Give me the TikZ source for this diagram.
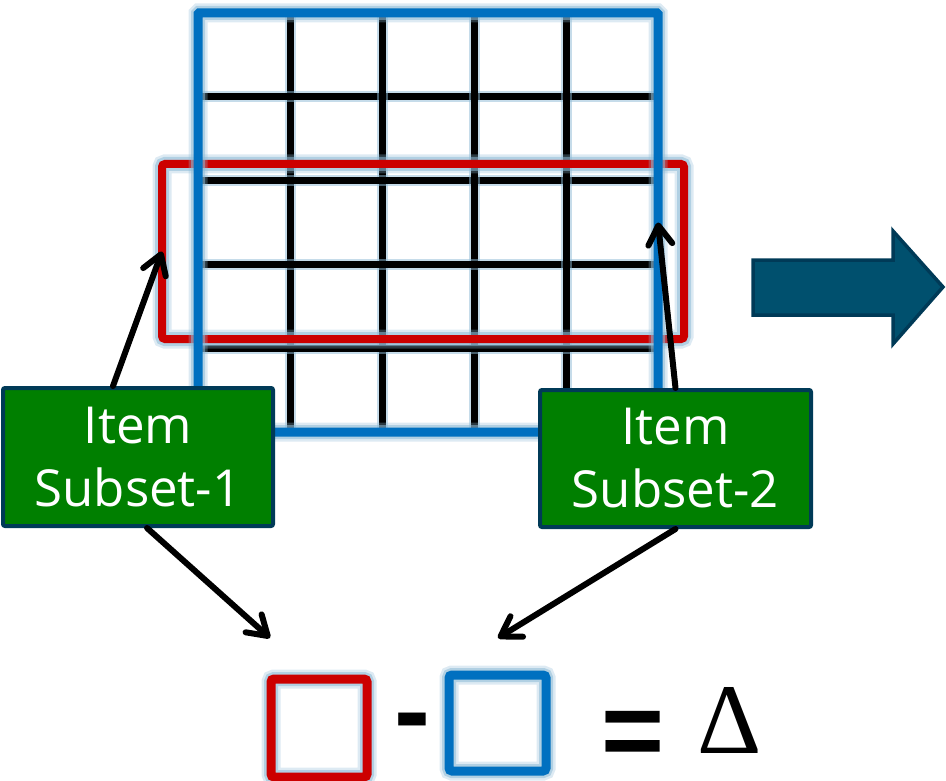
\documentclass[tikz,border=0pt]{standalone}
\usepackage{fontspec}
\setmainfont{Open Sans}
\newfontfamily\symbfont{Liberation Sans}
\newfontfamily\deltafont{Liberation Serif}
\usepackage{xcolor}
\usepackage{tikz}
\usetikzlibrary{arrows.meta, positioning, calc}

\definecolor{setblue}{HTML}{0070C0}
\definecolor{setred}{HTML}{CC0000}
\definecolor{itemgreen}{HTML}{007F00}
\definecolor{navyline}{HTML}{003A57}
\definecolor{bigarrow}{HTML}{00506E}
\definecolor{glowblue}{HTML}{8DBAD6}

\begin{document}
\begin{tikzpicture}[
    x=1pt, y=-1pt,
    glow/.style={preaction={draw=glowblue, line width=19pt, opacity=.3}, preaction={draw=glowblue, line width=14pt, opacity=.55}},
    gridline/.style={line width=7pt, draw=black, preaction={draw=glowblue, line width=11pt, opacity=.5}},
    setbox/.style={rectangle, inner sep=0pt, outer sep=0pt, rounded corners=3pt, glow},
    itembox/.style={rectangle, rounded corners=2pt, draw=navyline, line width=4pt, fill=itemgreen, text=white, align=center, minimum width=270pt, minimum height=138pt, inner sep=0pt, font=\fontsize{51}{63}\selectfont},
    link/.style={line width=6pt, draw=black, line cap=round, -{Straight Barb[length=19pt, width=24pt, round]}},
    symb/.style={inner sep=0pt, font=\symbfont\bfseries\fontsize{108}{108}\selectfont}
]
\useasboundingbox (0,0) rectangle (946,781);

% grid of cells
\foreach \i in {1,...,4} {
    \draw[gridline] (198+\i*92, 13) -- (198+\i*92, 432);
    \draw[gridline] (198, 13+\i*83.8) -- (658, 13+\i*83.8);
}

% subset rows and item columns
\node (rows) [setbox, draw=setred, line width=8pt, minimum width=522pt, minimum height=175pt] at (423, 251.5) {};
\node (grid) [setbox, draw=setblue, line width=9pt, rounded corners=1pt, minimum width=460pt, minimum height=419pt] at (428, 222.5) {};

% item subsets
\node (item1) [itembox] at (138, 457) {Item\\Subset-1};
\node (item2) [itembox, minimum width=271pt, minimum height=137pt] at (675.5, 458.5) {Item\\Subset-2};

% difference
\node (redsq) [setbox, draw=setred, line width=9pt, minimum width=96pt, minimum height=98pt] at (319, 728) {};
\node (bluesq) [setbox, draw=setblue, line width=9pt, minimum width=97pt, minimum height=96pt] at (497.5, 723) {};
\node (minus) [symb] at (412, 730) {-};
\node (equals) [symb] at (633, 739) {=};
\node (delta) [inner sep=0pt, font=\deltafont\fontsize{100}{100}\selectfont] at (730, 720) {Δ};

\coordinate (tip1) at (270, 638);
\coordinate (tip2) at (498, 638);

\draw [link] ([xshift=-25pt]item1.north) -- (rows.west);
\draw [link] (item2.north) -- (grid.east);
\draw [link] ([xshift=9pt]item1.south) -- (tip1);
\draw [link] (item2.south) -- (tip2);

% result arrow
\draw [draw=navyline, fill=bigarrow, line width=3.5pt, line join=miter]
    (753,260) -- (893,260) -- (893,231) -- (943,287) -- (893,344) -- (893,315) -- (753,315) -- cycle;

\end{tikzpicture}
\end{document}
